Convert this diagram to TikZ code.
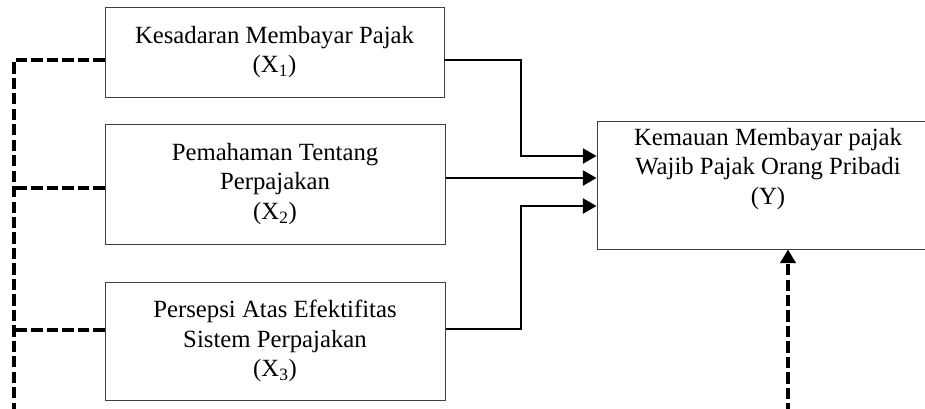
\documentclass[tikz,border=0pt]{standalone}
\usepackage{fontspec}
\setmainfont{Liberation Serif}
\usetikzlibrary{arrows.meta}
\tikzset{
	varbox/.style={draw=black!75, line width=0.7pt, rectangle, align=center, font=\fontsize{17.6}{21}\selectfont, inner sep=0pt},
	solidline/.style={line width=1.1pt, -{Triangle[length=0.34cm, width=0.38cm]}},
	dashline/.style={line width=2.6pt, dash pattern=on 8pt off 3pt}
}
\begin{document}
\begin{tikzpicture}[x=0.025cm, y=-0.025cm]
		\useasboundingbox (0,0) rectangle (925,408);
		\clip (0,0) rectangle (925,408);

		% Draw boxes
		\node[varbox, minimum width=339*0.025cm, minimum height=90*0.025cm] (x1) at (274.5,52) {Kesadaran Membayar Pajak\\(X\textsubscript{1})};
		\node[varbox, minimum width=340*0.025cm, minimum height=120*0.025cm] (x2) at (275,184) {Pemahaman Tentang\\Perpajakan\\(X\textsubscript{2})};
		\node[varbox, minimum width=340*0.025cm, minimum height=118*0.025cm] (x3) at (275,341) {Persepsi Atas Efektifitas\\Sistem Perpajakan\\(X\textsubscript{3})};
		\node[varbox, minimum width=342*0.025cm, minimum height=128*0.025cm] (y) at (768,185) {Kemauan Membayar pajak\\Wajib Pajak Orang Pribadi\\(Y)\\[6pt]};

		% Draw solid arrows
		\coordinate (k1) at (521,156);
		\coordinate (k3) at (521,206);
		\draw[solidline] ([yshift=-0.2cm]x1.east) -| (k1) -- (k1 -| y.west);
		\draw[solidline] ([yshift=0.15cm]x2.east) -- ([yshift=0.15cm]x2.east -| y.west);
		\draw[solidline] ([yshift=0.3cm]x3.east) -| (k3) -- (k3 -| y.west);

		% Draw dashed lines
		\coordinate (bl) at (14,430);
		\coordinate (yb) at (788,430);
		\draw[dashline] ([yshift=-0.2cm]x1.west) -| (bl);
		\draw[dashline] ([yshift=-0.1cm]x2.west) -- ([yshift=-0.1cm]x2.west -| bl);
		\draw[dashline] ([yshift=0.28cm]x3.west) -- ([yshift=0.28cm]x3.west -| bl);
		\draw[dashline, -{Triangle[length=0.34cm, width=0.38cm]}] (yb) -- (yb |- y.south);
	\end{tikzpicture}
\end{document}
